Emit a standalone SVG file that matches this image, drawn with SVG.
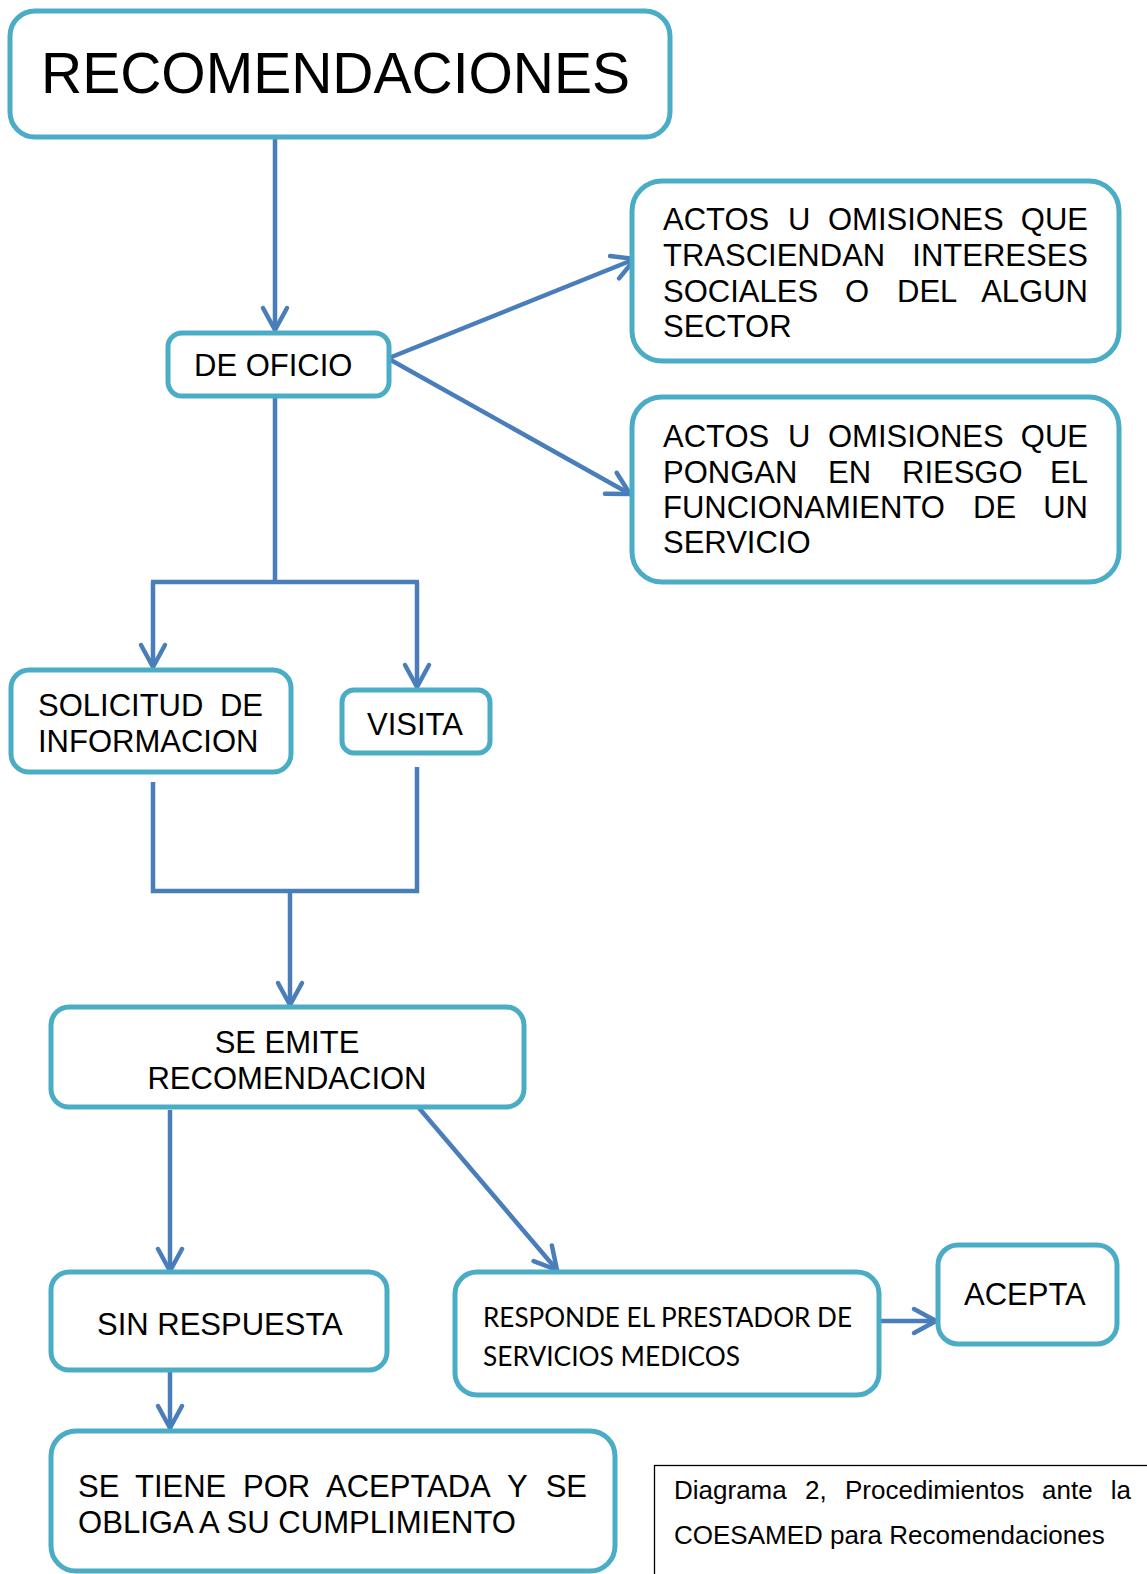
<svg xmlns="http://www.w3.org/2000/svg" width="1147" height="1574" viewBox="0 0 1147 1574">
<style>
.box{fill:#fff;stroke:#4BACC6;stroke-width:5}
.t{font-family:"Liberation Sans",Arial,sans-serif;font-size:31px;fill:#000}
.c{font-family:Lato,"Open Sans",sans-serif;font-size:26px;fill:#000}
.conn path{fill:none;stroke:#4A7EBB;stroke-width:4.5}
.arr{marker-end:url(#ah)}
</style>
<defs>
<marker id="ah" markerUnits="userSpaceOnUse" markerWidth="30" markerHeight="30" refX="25" refY="15" orient="auto" overflow="visible">
<path d="M3,3 L25,15 L3,27" fill="none" stroke="#4A7EBB" stroke-width="4.5" stroke-linecap="round" stroke-linejoin="round"/>
</marker>
</defs>
<rect width="1147" height="1574" fill="#fff"/>

<g class="conn" id="connectors">
<path class="arr" d="M275,139 V330"/>
<path class="arr" d="M389,358 L635,259"/>
<path class="arr" d="M389,359 L630,494"/>
<path d="M275,397 V582 M151,582 H419"/>
<path class="arr" d="M153,582 V667"/>
<path class="arr" d="M417,582 V687"/>
<path d="M153,782 V891 H417 V767"/>
<path class="arr" d="M290,891 V1005"/>
<path class="arr" d="M170,1110 V1271"/>
<path class="arr" d="M419,1108 L557,1270"/>
<path class="arr" d="M170,1372 V1428"/>
<path class="arr" d="M881,1321 H936"/>
</g>

<g id="n-recomendaciones">
<rect class="box" x="10" y="11" width="660" height="126" rx="25"/>
<text class="t" x="41" y="93" style="font-size:57px">RECOMENDACIONES</text>
</g>

<g id="n-deoficio">
<rect class="box" x="168" y="333" width="221" height="63" rx="14"/>
<text class="t" x="194" y="376">DE OFICIO</text>
</g>

<g id="n-actos1">
<rect class="box" x="632" y="181" width="487" height="180" rx="30"/>
<text class="t" y="230"><tspan x="663">ACTOS</tspan><tspan x="788">U</tspan><tspan x="828">OMISIONES</tspan></text>
<text class="t" x="1088" y="230" text-anchor="end">QUE</text>
<text class="t" x="663" y="266">TRASCIENDAN</text>
<text class="t" x="1088" y="266" text-anchor="end">INTERESES</text>
<text class="t" y="302"><tspan x="663">SOCIALES</tspan><tspan x="845">O</tspan><tspan x="897">DEL</tspan></text>
<text class="t" x="1088" y="302" text-anchor="end">ALGUN</text>
<text class="t" x="663" y="337">SECTOR</text>
</g>

<g id="n-actos2">
<rect class="box" x="632" y="397" width="487" height="185" rx="30"/>
<text class="t" y="447"><tspan x="663">ACTOS</tspan><tspan x="788">U</tspan><tspan x="828">OMISIONES</tspan></text>
<text class="t" x="1088" y="447" text-anchor="end">QUE</text>
<text class="t" y="483"><tspan x="663">PONGAN</tspan><tspan x="828">EN</tspan><tspan x="902">RIESGO</tspan></text>
<text class="t" x="1088" y="483" text-anchor="end">EL</text>
<text class="t" y="518"><tspan x="663">FUNCIONAMIENTO</tspan><tspan x="973">DE</tspan></text>
<text class="t" x="1088" y="518" text-anchor="end">UN</text>
<text class="t" x="663" y="553">SERVICIO</text>
</g>

<g id="n-solicitud">
<rect class="box" x="11" y="670" width="280" height="102" rx="18"/>
<text class="t" x="38" y="716">SOLICITUD</text>
<text class="t" x="263" y="716" text-anchor="end">DE</text>
<text class="t" x="38" y="752">INFORMACION</text>
</g>

<g id="n-visita">
<rect class="box" x="342" y="690" width="148" height="63" rx="12"/>
<text class="t" x="367" y="735">VISITA</text>
</g>

<g id="n-emite">
<rect class="box" x="51" y="1007" width="473" height="100" rx="18"/>
<text class="t" x="287" y="1053" text-anchor="middle">SE EMITE</text>
<text class="t" x="287" y="1089" text-anchor="middle">RECOMENDACION</text>
</g>

<g id="n-sinrespuesta">
<rect class="box" x="51" y="1272" width="336" height="98" rx="18"/>
<text class="t" x="97" y="1335">SIN RESPUESTA</text>
</g>

<g id="n-responde">
<rect class="box" x="455" y="1272" width="424" height="123" rx="22"/>
<text class="c" x="483" y="1327" textLength="369" lengthAdjust="spacingAndGlyphs">RESPONDE EL PRESTADOR DE</text>
<text class="c" x="483" y="1366" textLength="257" lengthAdjust="spacingAndGlyphs">SERVICIOS MEDICOS</text>
</g>

<g id="n-acepta">
<rect class="box" x="938" y="1245" width="179" height="99" rx="20"/>
<text class="t" x="964" y="1305">ACEPTA</text>
</g>

<g id="n-setiene">
<rect class="box" x="51" y="1431" width="564" height="140" rx="25"/>
<text class="t" y="1497"><tspan x="78">SE</tspan><tspan x="135">TIENE</tspan><tspan x="243">POR</tspan><tspan x="326">ACEPTADA</tspan><tspan x="507">Y</tspan></text>
<text class="t" x="587" y="1497" text-anchor="end">SE</text>
<text class="t" x="78" y="1533" textLength="438" lengthAdjust="spacingAndGlyphs">OBLIGA A SU CUMPLIMIENTO</text>
</g>

<g id="caption">
<rect x="654.5" y="1465.5" width="500" height="120" fill="#fff" stroke="#000" stroke-width="1.3"/>
<text class="t" y="1499" style="font-size:26px"><tspan x="674">Diagrama</tspan><tspan x="805">2,</tspan><tspan x="845">Procedimientos</tspan><tspan x="1042">ante</tspan></text>
<text class="t" x="1131" y="1499" text-anchor="end" style="font-size:26px">la</text>
<text class="t" x="674" y="1544" style="font-size:26px">COESAMED para Recomendaciones</text>
</g>
</svg>
